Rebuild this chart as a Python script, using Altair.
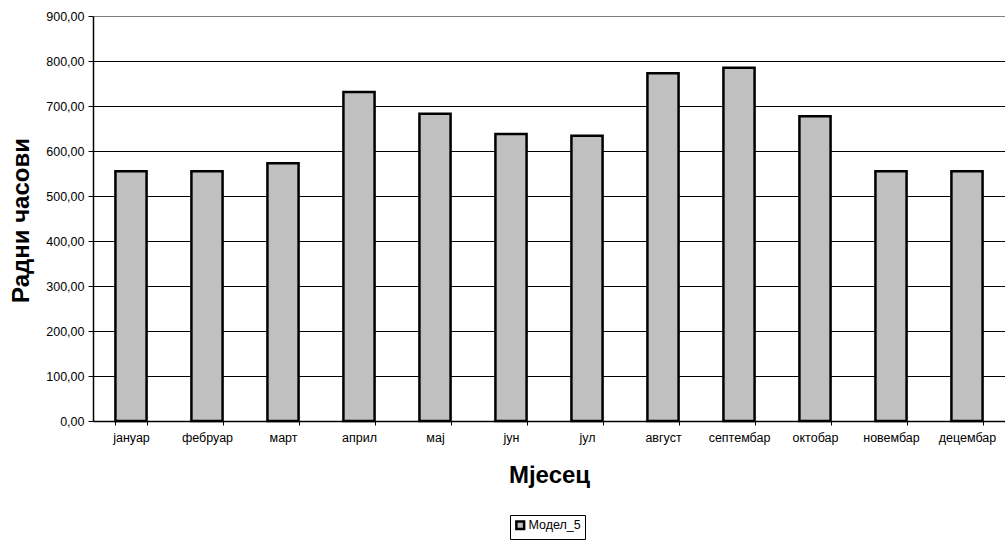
import altair as alt
import pandas as pd

months = ["јануар", "фебруар", "март", "април", "мај", "јун",
          "јул", "август", "септембар", "октобар", "новембар", "децембар"]
hours = [555, 555, 573, 731, 683, 638, 634, 773, 785, 677, 555, 555]
series = ["Модел_5"] * len(months)
y_ticks = [0, 100, 200, 300, 400, 500, 600, 700, 800, 900]

df = pd.DataFrame({"month": months, "hours": hours, "series": series})

font = "Liberation Sans"

chart = alt.Chart(df).mark_bar(
    stroke="black", strokeWidth=2.5, strokeJoin="miter"
).encode(
    x=alt.X(
        "month:N",
        sort=months,
        scale=alt.Scale(paddingInner=0.59, paddingOuter=0.295),
        axis=alt.Axis(
            title="Мјесец",
            titleFont=font, titleFontSize=24, titleFontWeight="bold",
            titleColor="black", titleY=54, titleBaseline="middle",
            labelFont=font, labelFontSize=12.5, labelColor="black",
            labelAngle=0, labelPadding=6,
            domainColor="black", domainWidth=1.5,
            tickColor="black", tickSize=4, tickBand="extent",
            grid=False,
        ),
    ),
    y=alt.Y(
        "hours:Q",
        scale=alt.Scale(domain=[0, 900], nice=False, zero=True),
        axis=alt.Axis(
            title="Радни часови",
            titleFont=font, titleFontSize=24, titleFontWeight="bold",
            titleColor="black", titleX=-72, titleY=204,
            titleAngle=-90, titleAlign="center", titleBaseline="middle",
            values=y_ticks,
            labelExpr="replace(format(datum.value, '.2f'), '.', ',')",
            labelFont=font, labelFontSize=12.5, labelColor="black",
            labelPadding=4,
            domainColor="black", domainWidth=1.5,
            tickColor="black", tickSize=5,
            grid=True,
            gridColor=alt.condition("datum.value == 900", alt.value("#808080"), alt.value("black")),
            gridWidth=1,
        ),
    ),
    color=alt.Color(
        "series:N",
        scale=alt.Scale(range=["#c0c0c0"]),
        legend=alt.Legend(
            title=None,
            orient="none", legendX=417, legendY=499,
            direction="vertical",
            strokeColor="black", padding=4,
            symbolType="square", symbolSize=60,
            symbolStrokeColor="black", symbolStrokeWidth=2.5,
            symbolFillColor="#c0c0c0",
            labelFont=font, labelFontSize=12.5, labelColor="black",
            labelOffset=2,
        ),
    ),
).properties(
    width=912,
    height=405,
    autosize=alt.AutoSizeParams(type="none"),
    padding={"left": 93, "top": 16, "right": 0, "bottom": 121},
    background="white",
).configure_view(stroke=None)

chart.save("out.html", embed_options={"renderer": "svg", "actions": False})
